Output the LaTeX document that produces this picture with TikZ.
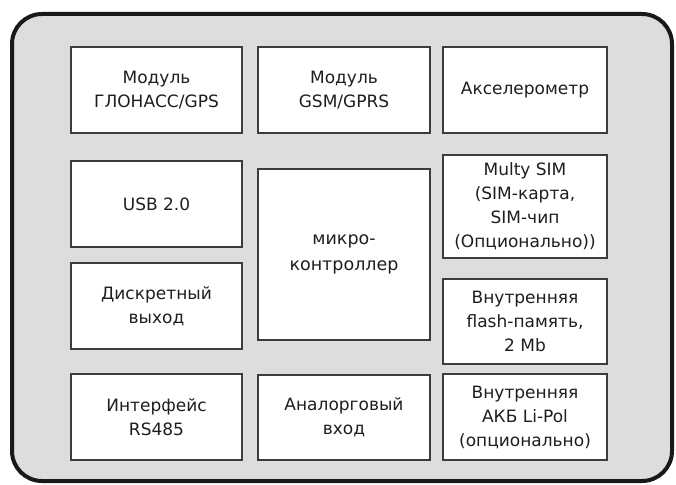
\documentclass[tikz,border=0pt]{standalone}
\usepackage{fontspec}
\setmainfont{DejaVu Sans}
\definecolor{bggray}{RGB}{221,221,221}
\definecolor{boxline}{RGB}{60,60,60}
\definecolor{txt}{RGB}{30,30,30}
\begin{document}
\begin{tikzpicture}[x=1pt,y=-1pt,
  blk/.style={draw=boxline, line width=1.8pt, fill=white, inner sep=0pt, outer sep=0pt,
    align=center, text=txt, font=\fontsize{17}{24}\selectfont},
  frm/.style={draw=black!90, line width=4pt, fill=bggray, rounded corners=30pt, inner sep=0pt}]
\useasboundingbox (0,0) rectangle (676,484);
\node[frm, minimum width=660pt, minimum height=467pt] (frame) at (342,247.5) {};
% row 1
\node[blk, minimum width=171pt, minimum height=86pt] (gnss) at (156.5,90) {Модуль\\ГЛОНАСС/GPS};
\node[blk, minimum width=172pt, minimum height=86pt] (gsm) at (344,90) {Модуль\\GSM/GPRS};
\node[blk, minimum width=164pt, minimum height=86pt] (acc) at (525,90) {Акселерометр};
% left column
\node[blk, minimum width=171pt, minimum height=86pt] (usb) at (156.5,204) {USB 2.0};
\node[blk, minimum width=171pt, minimum height=86pt] (dout) at (156.5,306) {Дискретный\\выход};
\node[blk, minimum width=171pt, minimum height=86pt] (rs) at (156.5,417) {Интерфейс\\RS485};
% middle column
\node[blk, minimum width=172pt, minimum height=171pt, font=\fontsize{17.5}{26}\selectfont] (mcu) at (344,254.5) {микро-\\контроллер};
\node[blk, minimum width=172pt, minimum height=85pt] (ain) at (344,417.5) {Аналорговый\\вход};
% right column
\node[blk, minimum width=164pt, minimum height=103pt] (sim) at (525,206.5) {Multy SIM\\(SIM-карта,\\SIM-чип\\(Опционально))};
\node[blk, minimum width=164pt, minimum height=85pt] (flash) at (525,321.5) {Внутренняя\\flash-память,\\2 Mb};
\node[blk, minimum width=164pt, minimum height=86pt] (akb) at (525,417) {Внутренняя\\АКБ Li-Pol\\(опционально)};
\end{tikzpicture}
\end{document}
